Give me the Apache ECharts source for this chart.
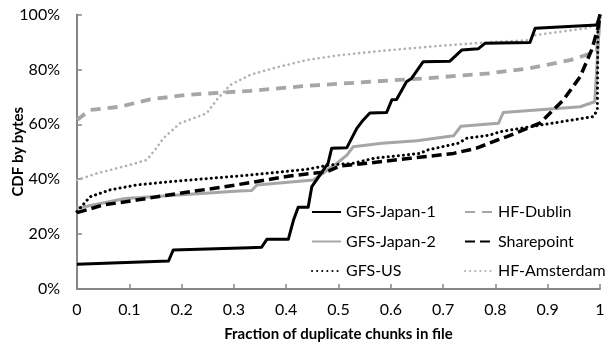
<!DOCTYPE html>
<html>
<head>
<meta charset="utf-8">
<script src="https://cdn.jsdelivr.net/npm/echarts@6/dist/echarts.min.js"></script>
<style>
html,body{margin:0;padding:0;background:#fff;}
#chart{width:608px;height:346px;}
</style>
</head>
<body>
<div id="chart"></div>
<script>
var xTicks = [0, 0.1, 0.2, 0.3, 0.4, 0.5, 0.6, 0.7, 0.8, 0.9, 1];
var yTicks = [0, 20, 40, 60, 80, 100];

var gfsJapan1 = [[0,9.0],[0.175,10.2],[0.184,14.2],[0.33,15.0],[0.353,15.2],[0.363,18.1],[0.404,18.1],[0.414,25.1],[0.423,29.8],[0.442,29.8],[0.449,37.3],[0.48,45.8],[0.487,51.3],[0.516,51.5],[0.535,58.5],[0.547,61.5],[0.56,64.1],[0.592,64.3],[0.602,68.9],[0.611,69.0],[0.63,75.5],[0.64,76.8],[0.662,82.8],[0.713,83.0],[0.736,87.1],[0.767,87.5],[0.78,89.5],[0.866,89.8],[0.876,95],[0.994,96.2],[1,100]];
var gfsJapan2 = [[0,29.4],[0.092,33],[0.31,35.7],[0.334,35.9],[0.344,37.9],[0.452,39.7],[0.497,45.8],[0.516,48.8],[0.528,51.8],[0.583,53.1],[0.65,54],[0.72,55.8],[0.734,59.3],[0.806,60.4],[0.815,64.3],[0.962,66.4],[0.99,68.2],[1,100]];
var gfsUS = [[0,28.2],[0.025,33.6],[0.063,36.1],[0.114,37.9],[0.178,39.1],[0.33,41.5],[0.439,43.6],[0.484,45.2],[0.528,45.8],[0.567,47.6],[0.656,49.4],[0.669,50.6],[0.729,53.1],[0.745,54.9],[0.79,56.1],[0.809,57.3],[0.866,59.1],[0.987,62.8],[0.995,65.2],[0.996,96.8],[1,100]];
var hfDublin = [[0,61.6],[0.025,65.2],[0.082,66.4],[0.14,69.1],[0.21,70.7],[0.273,71.5],[0.331,72.2],[0.439,74],[0.56,75.5],[0.67,76.8],[0.79,78.6],[0.866,80.4],[0.943,83.4],[0.994,86.5],[1,100]];
var sharepoint = [[0,27.8],[0.05,30.6],[0.114,32.4],[0.197,34.9],[0.273,37],[0.33,38.7],[0.407,41.2],[0.477,42.7],[0.503,44.8],[0.554,45.8],[0.637,47.6],[0.72,49.4],[0.764,51.3],[0.8,54],[0.822,55.5],[0.885,60.4],[0.93,68.9],[0.962,77.3],[0.984,87.1],[0.997,95.6],[1,100]];
var hfAmsterdam = [[0,39.7],[0.038,42.1],[0.101,45.2],[0.133,47],[0.149,50.6],[0.165,54.9],[0.197,60.4],[0.248,64],[0.267,68.9],[0.293,74.3],[0.331,78],[0.375,80.4],[0.439,83.4],[0.503,85.2],[0.579,86.7],[0.688,88.5],[0.771,89.7],[0.866,90.7],[0.876,92.5],[0.975,95],[0.994,96.8],[1,100]];

var FONT = 'Lato';
var chart = echarts.init(document.getElementById('chart'), null, {renderer: 'canvas'});

function mk(name, data, color, width, type, cap) {
  return {
    name: name, type: 'line', data: data, symbol: 'none', smooth: false,
    animation: false,
    lineStyle: {color: color, width: width, type: type, cap: cap || 'butt', join: 'round'},
    itemStyle: {color: color}
  };
}

var GRAY = '#a6a6a6';
var legendCommon = {
  orient: 'vertical', top: 204, padding: 0, itemGap: 13.5, itemHeight: 14,
  itemStyle: {opacity: 0, borderWidth: 0},
  textStyle: {fontFamily: FONT, fontSize: 16, color: '#000'}
};
var option = {
  animation: false,
  textStyle: {fontFamily: FONT},
  grid: {left: 77, right: 8, top: 14.5, bottom: 57, containLabel: false, outerBoundsMode: 'none'},
  xAxis: {
    type: 'value', min: 0, max: 1, interval: 0.1,
    name: 'Fraction of duplicate chunks in file',
    nameLocation: 'middle', nameGap: 38, nameMoveOverlap: false,
    nameTextStyle: {fontFamily: FONT, fontWeight: 'bold', fontSize: 15, color: '#000'},
    axisLine: {show: true, lineStyle: {color: '#868686', width: 2}},
    axisTick: {show: true, inside: true, length: 5, lineStyle: {color: '#868686', width: 1.5}},
    axisLabel: {fontFamily: FONT, fontSize: 16, color: '#000', margin: 13,
      formatter: function (v) { return String(Math.round(v * 10) / 10); }},
    splitLine: {show: false}
  },
  yAxis: {
    type: 'value', min: 0, max: 100, interval: 20,
    name: 'CDF by bytes',
    nameLocation: 'middle', nameGap: 51, nameMoveOverlap: false,
    nameTextStyle: {fontFamily: FONT, fontWeight: 'bold', fontSize: 15, color: '#000'},
    axisLine: {show: true, lineStyle: {color: '#868686', width: 2}},
    axisTick: {show: true, inside: true, length: 5, lineStyle: {color: '#868686', width: 1.5}},
    axisLabel: {fontFamily: FONT, fontSize: 16, color: '#000', margin: 17, formatter: '{value}%'},
    splitLine: {show: false}
  },
  legend: [
    Object.assign({}, legendCommon, {
      data: ['GFS-Japan-1', 'GFS-Japan-2', 'GFS-US'],
      left: 311, itemWidth: 29
    }),
    Object.assign({}, legendCommon, {
      data: ['HF-Dublin', 'Sharepoint', 'HF-Amsterdam'],
      left: 464, itemWidth: 28
    })
  ],
  series: [
    mk('HF-Amsterdam', hfAmsterdam, '#b0b0b0', 2.6, [0.1, 5], 'round'),
    mk('HF-Dublin', hfDublin, GRAY, 3.8, [10, 7]),
    mk('GFS-Japan-2', gfsJapan2, GRAY, 3),
    mk('Sharepoint', sharepoint, '#000', 3.5, [10, 5]),
    mk('GFS-US', gfsUS, '#000', 3, [0.1, 5], 'round'),
    mk('GFS-Japan-1', gfsJapan1, '#000', 3)
  ]
};
chart.setOption(option);
</script>
</body>
</html>
